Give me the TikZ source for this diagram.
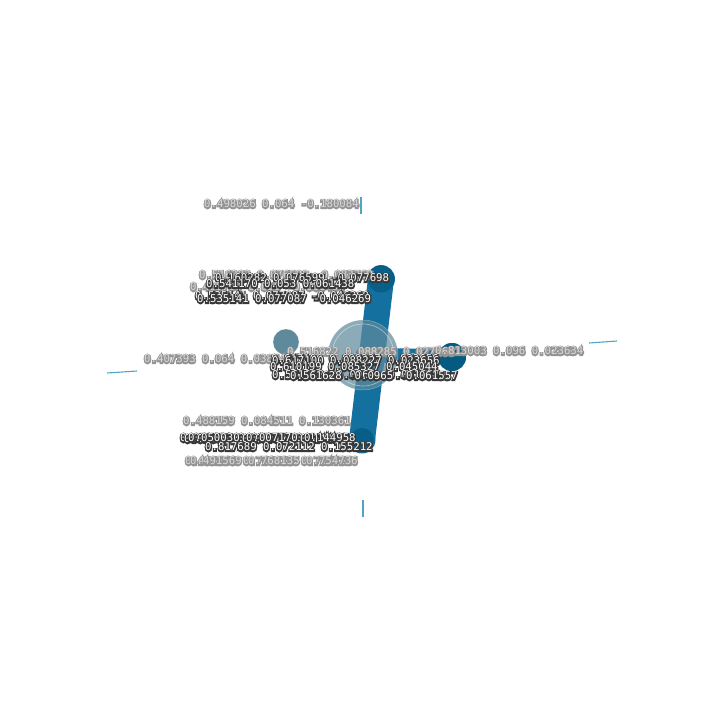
\documentclass[tikz,border=0pt]{standalone}
\usepackage{fontspec}
\newfontfamily\monoout[FakeBold=24]{DejaVu Sans Mono}
\newfontfamily\monoin{DejaVu Sans Mono}
\definecolor{edgeblue}{HTML}{14709E}
\definecolor{nodeblue}{HTML}{045A80}
\definecolor{hubblue}{HTML}{5E8A9C}
\definecolor{tipblue}{HTML}{4FA6C4}
\newcommand{\halotext}[1]{\fontsize{10.7}{11}\selectfont\rlap{\monoout\color{black!42}#1}{\monoin\color{white!85!black}#1}}
\newcommand{\darktext}[1]{\fontsize{10.7}{11}\selectfont\rlap{\monoout\color{black!78}#1}{\monoin\color{white}#1}}
\tikzset{
  x=1pt,y=-1pt,
  vertex/.style={circle,inner sep=0pt,fill=#1,draw=white,draw opacity=.35,line width=.5pt},
  thick edge/.style={draw=edgeblue,line cap=round},
  tip edge/.style={draw=tipblue,line width=1.1pt},
  lab/.style={inner sep=0pt,anchor=west}
}
\begin{document}
\begin{tikzpicture}
\useasboundingbox (0,0) rectangle (720,720);
\coordinate (e1a) at (107,373); \coordinate (e1b) at (137,371);
\coordinate (e2a) at (589,343); \coordinate (e2b) at (617,341);
\coordinate (e3a) at (361,197); \coordinate (e3b) at (361,214);
\coordinate (e4a) at (363,500); \coordinate (e4b) at (363,517);
\draw[tip edge] (e1a) -- (e1b);
\draw[tip edge] (e2a) -- (e2b);
\draw[tip edge] (e3a) -- (e3b);
\draw[tip edge] (e4a) -- (e4b);
\node[vertex=hubblue,minimum size=26pt] (n5) at (286,342) {};
\node[vertex=nodeblue,minimum size=28pt] (n2) at (381,279) {};
\node[vertex=nodeblue,minimum size=27pt] (n3) at (362,440) {};
\node[vertex=nodeblue,minimum size=28pt] (n4) at (452,357) {};
\coordinate (hubc) at (363,355);
\draw[thick edge,line width=26pt] (n2.center) -- (n3.center);
\draw[thick edge,line width=15pt] (hubc) -- (n4.center);
\fill[nodeblue,opacity=.75] (n2) circle (13.5);
\fill[nodeblue] (n4) circle (14);
\fill[nodeblue,opacity=.8] (n3) circle (12);
\node[vertex=hubblue,fill opacity=.72,minimum size=70pt] (n1) at (hubc) {};
\draw[white,opacity=.45,line width=.7pt] (hubc) circle (31);
\node[lab] (t11) at (287,352) {\halotext{0.516822 0.088285 0.027468}};
\node[lab] (t1) at (204,204) {\halotext{0.498026 0.064 -0.180084}};
\node[lab] (t2) at (144,359) {\halotext{0.407393 0.064 0.038641}};
\node[lab] (t3) at (435,351) {\halotext{0.813003 0.096 0.023634}};
\node[lab] (t4) at (183,421) {\halotext{0.488159 0.084511 0.130361}};
\node[lab] (t5) at (199,275) {\halotext{0.516282 0.076599 -0.083769}};
\node[lab] (t6) at (215,278) {\darktext{0.160282 0.076599 -0.077698}};
\node[lab] (t7) at (190,287) {\halotext{0.405750 0.050 -0.068438}};
\node[lab] (t8) at (206,284) {\darktext{0.541170 0.053 0.061438}};
\node[lab] (t9) at (195,296) {\darktext{0.535141 0.077087 -0.046269}};
\node[lab] (t10) at (197,299) {\darktext{0.535141 0.077087 -0.046269}};
\node[lab] (t12) at (271,359) {\darktext{0.617100 0.088227 0.023656}};
\node[lab] (t13) at (272,361) {\darktext{0.617100 0.088227 0.023656}};
\node[lab] (t14) at (270,367) {\darktext{0.610199 0.085327 0.045044}};
\node[lab] (t15) at (272,375) {\darktext{0.561628 -0.0965 -0.061557}};
\node[lab] (t16) at (290,376) {\darktext{0.561628 -0.0965 -0.061557}};
\node[lab] (t17) at (180,438) {\darktext{0.050030 0.007170 0.144958}};
\node[lab] (t18) at (184,439) {\darktext{0.050030 0.007170 0.144958}};
\node[lab] (t19) at (188,438) {\darktext{0.050030 0.007170 0.144958}};
\node[lab] (t20) at (205,447) {\darktext{0.817689 0.072112 0.155212}};
\node[lab] (t21) at (185,461) {\halotext{0.491569 0.768135 0.754736}};
\node[lab] (t22) at (190,461) {\halotext{0.491569 0.768135 0.754736}};
\end{tikzpicture}
\end{document}
